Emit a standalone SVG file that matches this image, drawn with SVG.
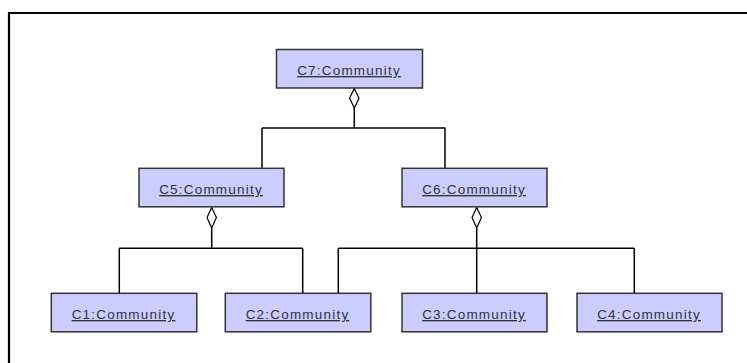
<svg xmlns="http://www.w3.org/2000/svg" width="747" height="363" viewBox="0 0 747 363">
  <style>
    .obj rect { fill: #ccccff; stroke: #333333; stroke-width: 1.5; }
    .obj text { font-family: "Liberation Sans", Arial, sans-serif; font-size: 13.5px; fill: #333333; text-anchor: middle; text-decoration: underline; letter-spacing: 1.2px; }
    .wire { fill: none; stroke: #000000; stroke-width: 1.5; }
    .agg { fill: #ffffff; stroke: #000000; stroke-width: 1.2; }
  </style>

  <!-- diagram frame -->
  <path d="M9,363 V13 H747" fill="none" stroke="#000000" stroke-width="2.2"/>

  <!-- aggregation connectors -->
  <g id="connectors">
    <!-- C7 owns C5, C6 -->
    <path class="wire" d="M354.3,108 V128 M262,128 H445.5 M262,128 V168 M445,128 V168"/>
    <polygon class="agg" points="354.3,88.5 359,98.3 354.3,108 349.6,98.3"/>
    <!-- C5 owns C1, C2 -->
    <path class="wire" d="M211.7,228 V248.3 M119.3,248.3 H302.7 M119.3,248.3 V293 M302.7,248.3 V293"/>
    <polygon class="agg" points="211.7,207.5 216.4,217.6 211.7,228 207,217.6"/>
    <!-- C6 owns C2, C3, C4 -->
    <path class="wire" d="M476.7,228 V293 M338.3,248.3 H634.3 M338.3,248.3 V293 M634.3,248.3 V293"/>
    <polygon class="agg" points="476.7,207.5 481.4,217.6 476.7,228 472,217.6"/>
  </g>

  <g id="C7" class="obj">
    <rect x="276.5" y="49.5" width="146" height="38.5"/>
    <text x="349" y="75">C7:Community</text>
  </g>
  <g id="C5" class="obj">
    <rect x="139" y="168.3" width="145" height="38.5"/>
    <text x="211" y="194">C5:Community</text>
  </g>
  <g id="C6" class="obj">
    <rect x="402" y="168.3" width="145" height="38.5"/>
    <text x="474" y="194">C6:Community</text>
  </g>
  <g id="C1" class="obj">
    <rect x="51.3" y="293.3" width="145.5" height="38.5"/>
    <text x="123.5" y="319">C1:Community</text>
  </g>
  <g id="C2" class="obj">
    <rect x="225.3" y="293.3" width="145.5" height="38.5"/>
    <text x="297.5" y="319">C2:Community</text>
  </g>
  <g id="C3" class="obj">
    <rect x="402" y="293.3" width="145" height="38.5"/>
    <text x="474" y="319">C3:Community</text>
  </g>
  <g id="C4" class="obj">
    <rect x="577" y="293.3" width="145" height="38.5"/>
    <text x="649" y="319">C4:Community</text>
  </g>
</svg>
